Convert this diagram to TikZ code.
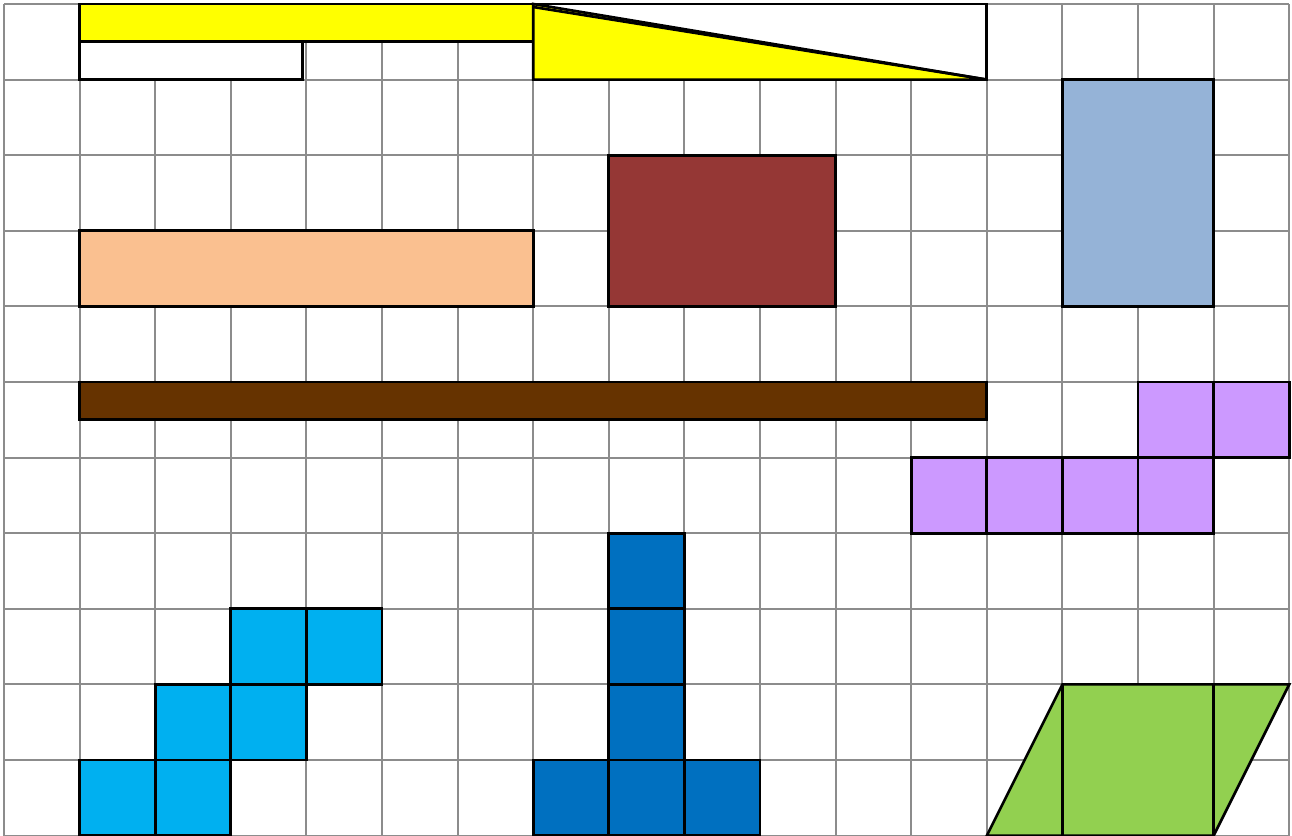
\documentclass[tikz,border=0pt]{standalone}
\usepackage{tikz}

\definecolor{amarillo}{HTML}{FFFF00}
\definecolor{melocoton}{HTML}{FAC090}
\definecolor{granate}{HTML}{953735}
\definecolor{celeste}{HTML}{95B3D7}
\definecolor{marron}{HTML}{663300}
\definecolor{lila}{HTML}{CC99FF}
\definecolor{cian}{HTML}{00B0F0}
\definecolor{azul}{HTML}{0070C0}
\definecolor{verde}{HTML}{92D050}

\begin{document}
\begin{tikzpicture}[x=1cm, y=1cm,
        cuadricula/.style={draw=gray!90, line width=0.8pt},
        figura/.style={draw=black, line width=1pt}]
        \useasboundingbox (-0.053,0) rectangle (17.037,11.053);
        % Cuadricula de fondo
        \draw[cuadricula] (0,0) grid (17,11);

        % Tiras de arriba
        \filldraw[figura, fill=amarillo] (1,10.5) rectangle (7,11);
        \filldraw[figura, fill=white] (1,10) rectangle (3.95,10.5);

        % Triangulo dentro del rectangulo
        \filldraw[figura, fill=white] (7,10) rectangle (13,11);
        \filldraw[figura, fill=amarillo] (7,11) -- (7,10) -- (13,10) -- cycle;
        \draw[figura] (7,10.96) -- (13,10);

        % Rectangulos
        \filldraw[figura, fill=melocoton] (1,7) rectangle (7,8);
        \filldraw[figura, fill=granate] (8,7) rectangle (11,9);
        \filldraw[figura, fill=celeste] (14,7) rectangle (16,10);
        \filldraw[figura, fill=marron] (1,5.5) rectangle (13,6);

        % Cuadrados lila
        \filldraw[figura, fill=lila] (15,5) rectangle (16,6);
        \filldraw[figura, fill=lila] (16,5) rectangle (17,6);
        \filldraw[figura, fill=lila] (12,4) rectangle (13,5);
        \filldraw[figura, fill=lila] (13,4) rectangle (14,5);
        \filldraw[figura, fill=lila] (14,4) rectangle (15,5);
        \filldraw[figura, fill=lila] (15,4) rectangle (16,5);

        % Escalera cian
        \filldraw[figura, fill=cian] (3,2) rectangle (4,3);
        \filldraw[figura, fill=cian] (4,2) rectangle (5,3);
        \filldraw[figura, fill=cian] (2,1) rectangle (3,2);
        \filldraw[figura, fill=cian] (3,1) rectangle (4,2);
        \filldraw[figura, fill=cian] (1,0) rectangle (2,1);
        \filldraw[figura, fill=cian] (2,0) rectangle (3,1);

        % Letra T azul
        \filldraw[figura, fill=azul] (8,3) rectangle (9,4);
        \filldraw[figura, fill=azul] (8,2) rectangle (9,3);
        \filldraw[figura, fill=azul] (8,1) rectangle (9,2);
        \filldraw[figura, fill=azul] (7,0) rectangle (8,1);
        \filldraw[figura, fill=azul] (8,0) rectangle (9,1);
        \filldraw[figura, fill=azul] (9,0) rectangle (10,1);

        % Paralelogramo verde
        \filldraw[figura, fill=verde] (13,0) -- (14,2) -- (17,2) -- (16,0) -- cycle;
        \draw[figura] (14,0) -- (14,2);
        \draw[figura] (16,0) -- (16,2);
\end{tikzpicture}
\end{document}
